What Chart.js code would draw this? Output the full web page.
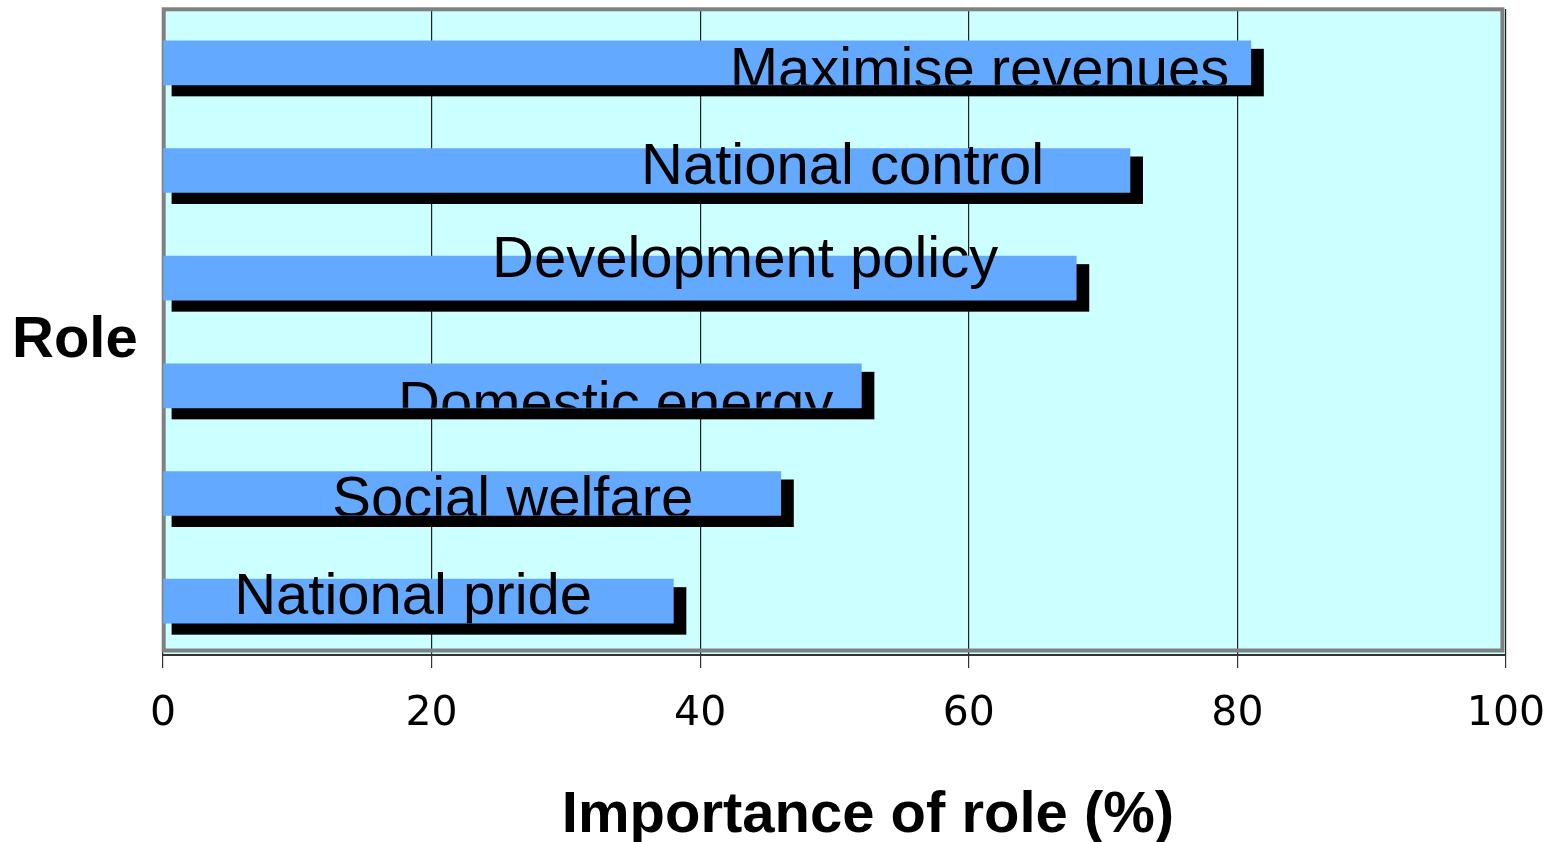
<!DOCTYPE html>
<html>
<head>
<meta charset="utf-8">
<script src="https://cdn.jsdelivr.net/npm/chart.js@4/dist/chart.umd.min.js"></script>
<style>
  html, body { margin: 0; padding: 0; background: #fff; }
  #wrap { width: 1557px; height: 842px; position: relative; }
</style>
</head>
<body>
<div id="wrap"><canvas id="roleChart" width="1557" height="842"></canvas></div>
<script>
const categories = ['Maximise revenues', 'National control', 'Development policy', 'Domestic energy', 'Social welfare', 'National pride'];
const importance = [81, 72, 68, 52, 46, 38];
const xTicks = [0, 20, 40, 60, 80, 100];
// where each label text begins (in % units) and how far its baseline sits below the bar centre
const labelStart = [42.2, 35.6, 24.5, 17.5, 12.6, 5.3];
const labelDrop = [25, 13, -1, 36, 23, 13];

const plotDecor = {
    id: 'plotDecor',
    beforeDraw(chart) {
        const { ctx, chartArea: a } = chart;
        ctx.save();
        ctx.fillStyle = '#CCFFFF';
        ctx.fillRect(a.left, a.top, a.right - a.left, a.bottom - a.top);
        ctx.restore();
    },
    beforeDatasetsDraw(chart) {
        const { ctx, chartArea: a } = chart;
        ctx.save();
        // grey frame of the plot
        ctx.strokeStyle = '#808080';
        ctx.lineWidth = 4;
        ctx.strokeRect(a.left + 0.7, a.top + 0.3, a.right - a.left - 4.3, a.bottom - a.top - 4.8);
        // black drop shadows behind each bar
        ctx.fillStyle = '#000';
        chart.getDatasetMeta(0).data.forEach(bar => {
            const top = bar.y - bar.height / 2;
            const bottom = bar.y + bar.height / 2;
            ctx.fillRect(bar.base + 8, top + 8, bar.x + 13 - (bar.base + 8), bottom + 11.5 - (top + 8));
        });
        ctx.restore();
    },
    afterDatasetsDraw(chart) {
        const { ctx } = chart;
        const xs = chart.scales.x;
        ctx.save();
        ctx.font = '58px "Liberation Sans", Arial, sans-serif';
        ctx.fillStyle = '#000';
        ctx.textAlign = 'left';
        ctx.textBaseline = 'alphabetic';
        chart.getDatasetMeta(0).data.forEach((bar, i) => {
            const bottom = bar.y + bar.height / 2;
            ctx.save();
            ctx.beginPath();
            ctx.rect(0, 0, chart.width, bottom);
            ctx.clip();
            ctx.fillText(categories[i], xs.getPixelForValue(labelStart[i]), bar.y + labelDrop[i]);
            ctx.restore();
        });
        ctx.restore();
    },
    afterDraw(chart) {
        const { ctx } = chart;
        ctx.save();
        ctx.fillStyle = '#000';
        ctx.font = 'bold 58px "Liberation Sans", Arial, sans-serif';
        ctx.textBaseline = 'alphabetic';
        ctx.textAlign = 'center';
        ctx.fillText('Importance of role (%)', 868, 832);
        ctx.textAlign = 'left';
        ctx.font = 'bold 58px "Liberation Sans", Arial, sans-serif';
        ctx.fillText('Role', 12, 357);
        ctx.restore();
    }
};

const ctx = document.getElementById('roleChart').getContext('2d');
new Chart(ctx, {
    type: 'bar',
    data: {
        labels: categories,
        datasets: [{
            data: importance,
            backgroundColor: '#63A9FF',
            borderWidth: 0,
            barThickness: 44
        }]
    },
    options: {
        indexAxis: 'y',
        responsive: false,
        animation: false,
        layout: { padding: { left: 163, top: 9, right: 51, bottom: 0 } },
        scales: {
            x: {
                min: 0,
                max: 100,
                afterBuildTicks(scale) {
                    scale.ticks = xTicks.map(v => ({ value: v }));
                },
                afterFit(scale) {
                    scale.height = 187;
                    scale.paddingLeft = 0;
                    scale.paddingRight = 0;
                },
                grid: {
                    color: '#222',
                    lineWidth: 1.2,
                    tickLength: 13,
                    tickColor: '#333'
                },
                border: { display: true, color: '#333', width: 2 },
                ticks: {
                    color: '#000',
                    padding: 22,
                    maxRotation: 0,
                    font: { family: '"DejaVu Sans", Verdana, sans-serif', size: 41 }
                }
            },
            y: {
                display: false
            }
        },
        plugins: {
            legend: { display: false },
            tooltip: { enabled: false }
        }
    },
    plugins: [plotDecor]
});
</script>
</body>
</html>
